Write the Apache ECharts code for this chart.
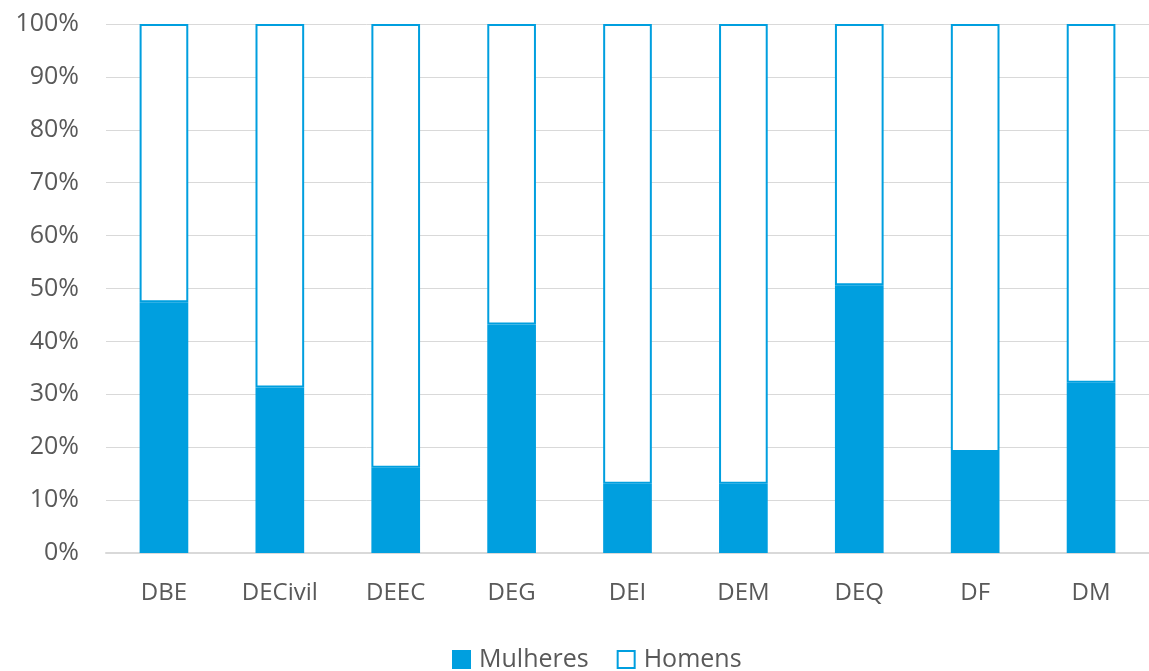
<!DOCTYPE html>
<html>
<head>
<meta charset="utf-8">
<script src="https://cdn.jsdelivr.net/npm/echarts@6/dist/echarts.min.js"></script>
<style>
  html, body { margin: 0; padding: 0; background: #fff; }
  #chart { width: 1149px; height: 671px; }
</style>
</head>
<body>
<div id="chart"></div>
<script>
var categories = ['DBE', 'DECivil', 'DEEC', 'DEG', 'DEI', 'DEM', 'DEQ', 'DF', 'DM'];
var mulheres = [47.4, 31.3, 16.1, 43.2, 13.1, 13.1, 50.6, 19.1, 32.2];
var homens = [52.6, 68.7, 83.9, 56.8, 86.9, 86.9, 49.4, 80.9, 67.8];
var yTicks = [0, 10, 20, 30, 40, 50, 60, 70, 80, 90, 100];

var myChart = echarts.init(document.getElementById('chart'));
var blue = '#009fdf';
var font = '"Open Sans", Lato, sans-serif';

var option = {
    animation: false,
    textStyle: { fontFamily: font },
    grid: {
        left: 106,
        width: 1048,
        top: 24,
        bottom: 118
    },
    legend: {
        top: 642,
        left: 447,
        icon: 'rect',
        itemWidth: 17,
        itemHeight: 17,
        itemGap: 28,
        textStyle: { fontSize: 25, color: '#595959', fontFamily: font, padding: [0, 0, 0, 4] },
        data: ['Mulheres', 'Homens']
    },
    xAxis: {
        type: 'category',
        data: categories,
        axisTick: { show: false },
        axisLine: { lineStyle: { color: '#d9d9d9', width: 2 } },
        axisLabel: { color: '#595959', fontSize: 24, margin: 28 }
    },
    yAxis: {
        type: 'value',
        min: 0,
        max: 100,
        interval: 10,
        axisLine: { show: false },
        axisTick: { show: false },
        splitLine: { lineStyle: { color: '#d9d9d9', width: 1 } },
        axisLabel: {
            color: '#595959',
            fontSize: 25,
            margin: 27,
            formatter: function (v) {
                return yTicks.indexOf(v) >= 0 ? v + '%' : '';
            }
        }
    },
    series: [{
        name: 'Mulheres',
        type: 'bar',
        stack: 'total',
        barWidth: '42%',
        itemStyle: { color: blue, borderColor: blue, borderWidth: 2 },
        data: mulheres
    }, {
        name: 'Homens',
        type: 'bar',
        stack: 'total',
        barWidth: '42%',
        itemStyle: { color: '#ffffff', borderColor: blue, borderWidth: 2 },
        data: homens
    }]
};
myChart.setOption(option);
</script>
</body>
</html>
